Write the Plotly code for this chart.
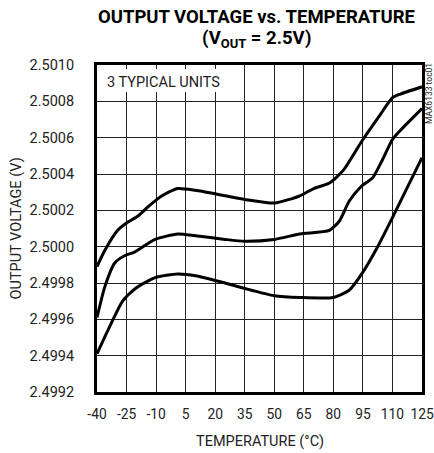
import plotly.graph_objects as go

t1 = [-40, -36, -29.5, -25, -19, -14, -7, 1, 10, 25, 35, 50, 63, 70, 78, 85, 95, 104, 110, 114, 125]
unit1 = [2.49989, 2.49998, 2.50009, 2.50013, 2.50017, 2.50022, 2.50028, 2.50032, 2.50031, 2.50028,
         2.50026, 2.50024, 2.50028, 2.50032, 2.50035, 2.50042, 2.50059, 2.50073, 2.50082, 2.50084, 2.50088]

t2 = [-40, -36, -31, -26, -21, -10.5, 1, 10, 25, 35, 50, 63, 78, 83, 88, 94, 100, 105, 110, 114, 125]
unit2 = [2.49961, 2.49978, 2.49991, 2.49995, 2.49997, 2.50004, 2.50007, 2.50006, 2.50004, 2.50003,
         2.50004, 2.50007, 2.50009, 2.50014, 2.50025, 2.50033, 2.50038, 2.50048, 2.50059, 2.50064, 2.50076]

t3 = [-40, -34, -27, -20.5, -10.5, 1, 10, 25, 35, 50, 63, 80, 88, 95, 102, 110, 125]
unit3 = [2.49941, 2.49955, 2.49970, 2.49977, 2.49983, 2.49985, 2.49984, 2.49980, 2.49977, 2.49973,
         2.49972, 2.49972, 2.49976, 2.49986, 2.49999, 2.50016, 2.50049]

x_ticks = [-40, -25, -10, 5, 20, 35, 50, 65, 80, 95, 110, 125]
y_ticks = [2.4992, 2.4994, 2.4996, 2.4998, 2.5000, 2.5002, 2.5004, 2.5006, 2.5008, 2.5010]
y_labels = [f"{v:.4f}" for v in y_ticks]

FONT = "Roboto, Liberation Sans, sans-serif"
TXT = "#222"
PLOT_H = 327.0  # plot-area height in px, used to place text lines


def py(screen_y):
    # paper y for a screen y (plot bottom at 392 px on screen)
    return (392 - screen_y) / PLOT_H


fig = go.Figure()
for tx, s in ((t1, unit1), (t2, unit2), (t3, unit3)):
    fig.add_trace(go.Scatter(x=tx, y=s, mode="lines",
                             line=dict(color="black", width=3, shape="spline", smoothing=0.6),
                             showlegend=False, hoverinfo="skip"))

fig.add_shape(type="rect", xref="x", yref="y", x0=-40, x1=26.5, y0=2.500852, y1=2.500982,
              fillcolor="white", line=dict(width=0), layer="between")

fig.add_annotation(x=-40, y=2.500917, xref="x", yref="y", xanchor="left", yanchor="middle",
                   xshift=8, yshift=-2, text="3 TYPICAL UNITS", showarrow=False,
                   font=dict(family=FONT, size=14.5, color=TXT))

fig.add_annotation(x=1.0, y=py(94), xref="paper", yref="paper", xanchor="center", yanchor="middle",
                   xshift=7, text="MAX6133 toc01", textangle=-90, showarrow=False,
                   font=dict(family=FONT, size=8.5, color=TXT))

# title lines
fig.add_annotation(x=0.49, y=py(17.5), xref="paper", yref="paper", yanchor="middle", xanchor="center",
                   text="<b>OUTPUT VOLTAGE vs. TEMPERATURE</b>", showarrow=False,
                   font=dict(family=FONT, size=18.5, color="black"))
fig.add_annotation(x=0.49, y=py(38.5), xref="paper", yref="paper", yanchor="middle", xanchor="center",
                   text="<b>(V<sub>OUT</sub> = 2.5V)</b>", showarrow=False,
                   font=dict(family=FONT, size=18.5, color="black"))

# axis titles
fig.add_annotation(x=0.5, y=py(441), xref="paper", yref="paper", yanchor="middle", xanchor="center",
                   text="TEMPERATURE (°C)", showarrow=False,
                   font=dict(family=FONT, size=14.5, color=TXT))
fig.add_annotation(x=0.0, y=0.5, xref="paper", yref="paper", yanchor="middle", xanchor="center",
                   xshift=-81, text="OUTPUT VOLTAGE (V)", textangle=-90, showarrow=False,
                   font=dict(family=FONT, size=14.5, color=TXT))

fig.update_layout(
    width=434, height=453,
    margin=dict(l=97, r=12, t=65, b=61, autoexpand=False),
    paper_bgcolor="white", plot_bgcolor="white",
    font=dict(family=FONT, size=14.5, color=TXT),
)

fig.update_xaxes(range=[-40, 125], tickvals=x_ticks, ticktext=[str(t) for t in x_ticks],
                 showgrid=True, gridcolor="#222", gridwidth=1, zeroline=False,
                 showline=True, linecolor="black", linewidth=3, mirror="ticks",
                 ticks="inside", ticklen=4, tickcolor="#222", tickwidth=1, automargin=False,
                 ticklabelstandoff=7, ticklabeloverflow="allow",
                 tickfont=dict(family=FONT, size=13.8, color=TXT))

fig.update_yaxes(range=[2.4992, 2.5010], tickvals=y_ticks, ticktext=y_labels,
                 showgrid=True, gridcolor="#222", gridwidth=1, zeroline=False,
                 showline=True, linecolor="black", linewidth=3, mirror=True,
                 ticks="", automargin=False, ticklabelstandoff=17,
                 tickfont=dict(family=FONT, size=14.5, color=TXT))

fig.write_html("out.html", config={"displayModeBar": False},
               post_script="document.body.style.margin='0';document.body.style.overflow='hidden';")
